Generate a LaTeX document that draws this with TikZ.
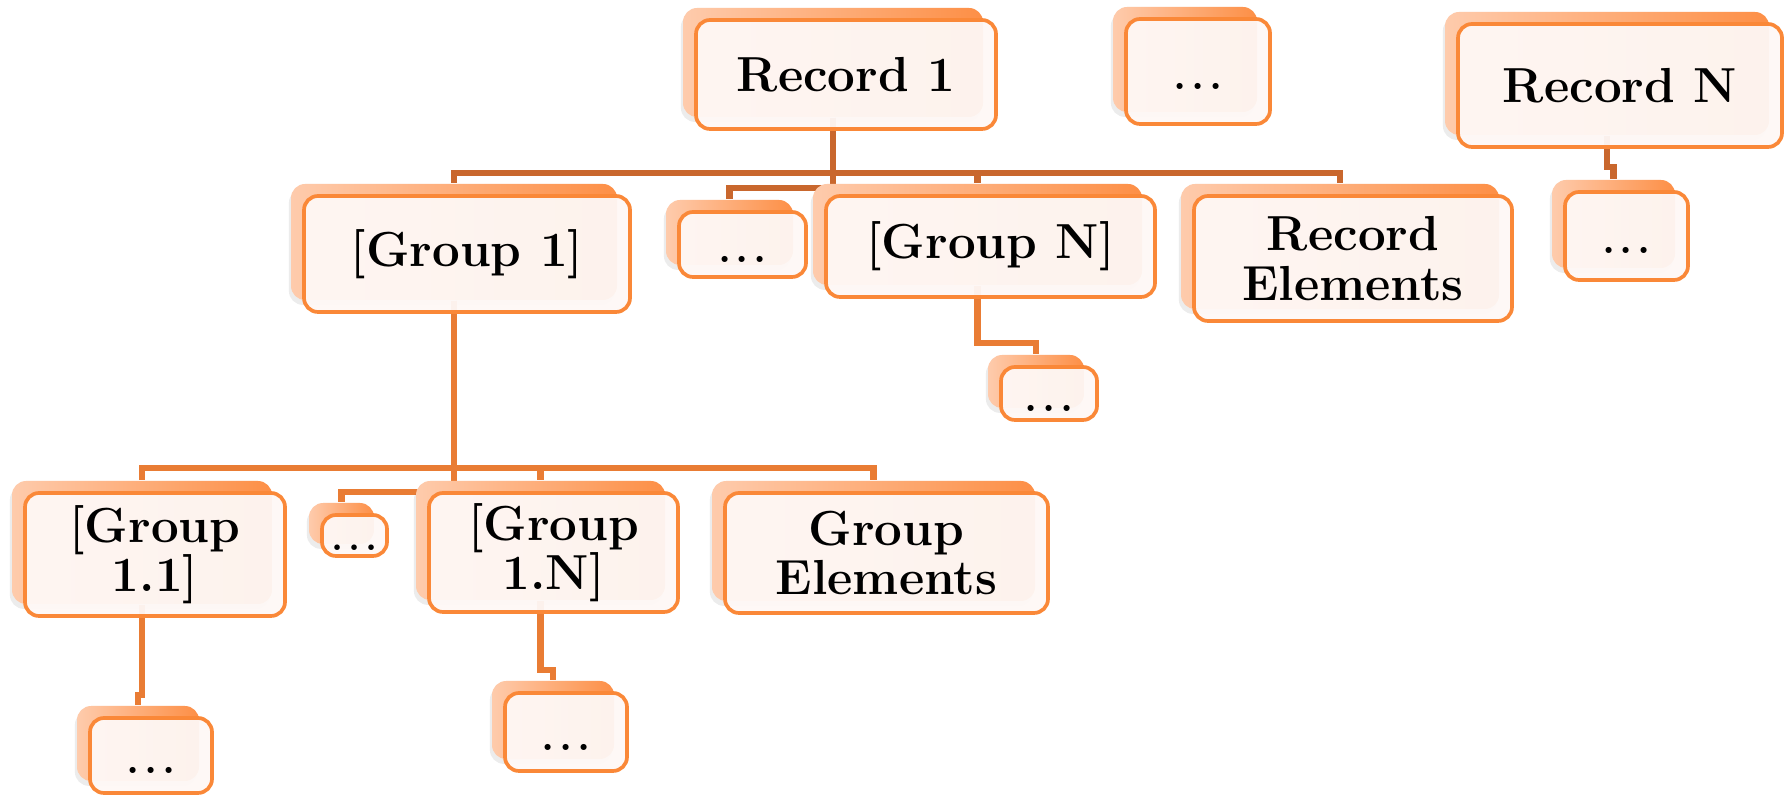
\documentclass[tikz,border=0pt]{standalone}
\usetikzlibrary{shadows,calc}
\definecolor{conA}{RGB}{201,103,45}
\definecolor{conB}{RGB}{233,124,52}
\definecolor{peachL}{RGB}{254,203,172}
\definecolor{peachR}{RGB}{253,143,70}
\definecolor{cardfill}{RGB}{254,248,246}
\definecolor{cardline}{RGB}{250,136,56}
\pgfdeclarelayer{bgwhite}
\pgfdeclarelayer{background}
\pgfsetlayers{bgwhite,background,main}
\tikzset{
  backbox/.style={rectangle, rounded corners=4pt, left color=peachL, right color=peachR,
    draw=none, inner sep=0pt,
    drop shadow={shadow xshift=-0.6pt, shadow yshift=-1.4pt, fill=black!60, opacity=0.12}},
  frontbox/.style={rectangle, rounded corners=4pt, draw=cardline, line width=1.05pt,
    fill=cardfill, fill opacity=0.95, text opacity=1, inner sep=0pt, align=center,
    font=\bfseries\fontsize{14}{14}\selectfont},
  dotsbox/.style={frontbox, font=\bfseries\fontsize{12}{12}\selectfont,
    text height=0.36cm, text depth=0pt},
  minidots/.style={frontbox, font=\bfseries\fontsize{11}{11}\selectfont,
    text height=0.29cm, text depth=0pt},
  linkA/.style={draw=conA, line width=1.9pt},
  linkB/.style={draw=conB, line width=1.9pt},
}
\newcommand\mycard[7]{%
  \node[backbox, minimum width={(#4-#2)*0.01cm}, minimum height={(#5-#3)*0.01cm}]
    (#1b) at ({(#2+#4)/2-13},{(#3+#5)/2-12}) {};
  \node[#6, minimum width={(#4-#2)*0.01cm}, minimum height={(#5-#3)*0.01cm}]
    (#1) at ({(#2+#4)/2},{(#3+#5)/2}) {#7};
}
\newcommand\mydots{.\kern1.3pt.\kern1.3pt.}
\begin{document}
\begin{tikzpicture}[x=0.01cm, y=-0.01cm]
\begin{pgfonlayer}{bgwhite}
  \fill[white] (0,0) rectangle (1791,795);
\end{pgfonlayer}
\useasboundingbox (0,0) rectangle (1791,795);

% top level
\mycard{r1}{696}{20}{996}{129}{frontbox}{Record 1}
\mycard{rd}{1126}{19}{1270}{124}{dotsbox}{\mydots}
\mycard{rN}{1458}{24}{1782}{147}{frontbox}{Record N}
\mycard{rNd}{1565}{192}{1688}{280}{dotsbox}{\mydots}

% second level
\mycard{g1}{304}{196}{630}{312}{frontbox}{[Group 1]}
\mycard{md1}{679}{212}{806}{277}{dotsbox}{\mydots}
\mycard{gN}{826}{196}{1155}{297}{frontbox}{[Group N]}
\mycard{gNd}{1001}{367}{1097}{420}{dotsbox}{\mydots}
\mycard{re}{1194}{196}{1512}{321}{frontbox}{Record\\Elements}

% third level
\mycard{g11}{25}{493}{285}{616}{frontbox}{[Group\\1.1]}
\mycard{md2}{322}{515}{387}{556}{minidots}{\mydots}
\mycard{g1N}{429}{493}{678}{612}{frontbox}{[Group\\1.N]}
\mycard{ge}{725}{493}{1048}{613}{frontbox}{Group\\Elements}

% fourth level
\mycard{g11d}{90}{718}{212}{793}{dotsbox}{\mydots}
\mycard{g1Nd}{505}{693}{627}{771}{dotsbox}{\mydots}

\coordinate (busR) at (0,173);
\coordinate (busRm) at (0,188);
\coordinate (busN) at (0,167);
\coordinate (busG) at (0,343);
\coordinate (bus1) at (0,468);
\coordinate (bus1m) at (0,492);
\coordinate (bus11) at (0,695);
\coordinate (bus1N) at (0,670);

\begin{pgfonlayer}{background}
  \draw[linkA] (r1b.south) -- (r1b.south |- busR) -| (g1b.north);
  \draw[linkA] (r1b.south |- busR) -| (gNb.north);
  \draw[linkA] (r1b.south |- busR) -| (reb.north);
  \draw[linkA] (r1b.south) -- (r1b.south |- busRm) -| (md1b.north);
  \draw[linkA] (rNb.south) -- (rNb.south |- busN) -| (rNdb.north);
  \draw[linkB] (gNb.south) -- (gNb.south |- busG) -| (gNdb.north);
  \draw[linkB] (g1b.south) -- (g1b.south |- bus1) -| (g11b.north);
  \draw[linkB] (g1b.south |- bus1) -| (g1Nb.north);
  \draw[linkB] (g1b.south |- bus1) -| (geb.north);
  \draw[linkB] (g1b.south) -- (g1b.south |- bus1m) -| (md2b.north);
  \draw[linkB] (g11b.south) -- (g11b.south |- bus11) -| (g11db.north);
  \draw[linkB] (g1Nb.south) -- (g1Nb.south |- bus1N) -| (g1Ndb.north);
\end{pgfonlayer}
\end{tikzpicture}
\end{document}
